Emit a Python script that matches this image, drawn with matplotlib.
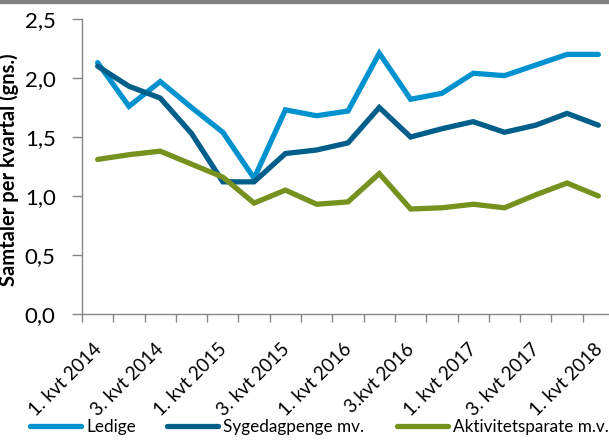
import numpy as np
import matplotlib.pyplot as plt
from matplotlib.lines import Line2D
from matplotlib.transforms import ScaledTranslation

plt.rcParams['font.family'] = ['Lato', 'DejaVu Sans']

# Data
kvartaler = ["1. kvt 2014", "2. kvt 2014", "3. kvt 2014", "4. kvt 2014",
             "1. kvt 2015", "2. kvt 2015", "3. kvt 2015", "4. kvt 2015",
             "1. kvt 2016", "2. kvt 2016", "3.kvt 2016", "4. kvt 2016",
             "1. kvt 2017", "2. kvt 2017", "3. kvt 2017", "4. kvt 2017",
             "1. kvt 2018"]
ledige = [2.13, 1.76, 1.97, 1.75, 1.54, 1.15, 1.73, 1.68, 1.72, 2.21,
          1.82, 1.87, 2.04, 2.02, 2.11, 2.20, 2.20]
sygedagpenge = [2.10, 1.93, 1.83, 1.53, 1.12, 1.12, 1.36, 1.39, 1.45, 1.75,
                1.50, 1.57, 1.63, 1.54, 1.60, 1.70, 1.60]
aktivitetsparate = [1.31, 1.35, 1.38, 1.27, 1.16, 0.94, 1.05, 0.93, 0.95, 1.19,
                    0.89, 0.90, 0.93, 0.90, 1.01, 1.11, 1.00]

farver = ["#0092CF", "#005E8A", "#76911E"]
navne = ["Ledige", "Sygedagpenge mv.", "Aktivitetsparate m.v."]

fig = plt.figure(figsize=(6.09, 4.42), dpi=100)
ax = fig.add_axes([82 / 609, 1 - 314 / 442, 532 / 609, 295 / 442])

x = np.arange(len(kvartaler))
for serie, farve in zip([ledige, sygedagpenge, aktivitetsparate], farver):
    ax.plot(x, serie, color=farve, linewidth=3.8, solid_capstyle="round",
            solid_joinstyle="miter")

ax.set_xlim(-0.5, len(kvartaler) - 0.5)
ax.set_ylim(0, 2.5)
yt = np.arange(0, 2.51, 0.5)
ax.set_yticks(yt)
ax.set_yticklabels([f"{v:.1f}".replace(".", ",") for v in yt], fontsize=16)

# ticks mellem kategorier, labels paa hver anden
ax.set_xticks(np.arange(-0.5, len(kvartaler), 1), minor=True)
ax.set_xticks(x[::2])
ax.set_xticklabels(kvartaler[::2], rotation=45, ha="right", va="top",
                   rotation_mode="anchor", fontsize=13.5)
ax.tick_params(axis="x", which="major", length=0, pad=19)
ax.tick_params(axis="x", which="minor", length=6, color="#868686", width=1)
ax.tick_params(axis="y", length=7, color="#868686", width=1, pad=12)
for lbl in ax.get_xticklabels():
    lbl.set_transform(lbl.get_transform() + ScaledTranslation(-5 / 100, 0, fig.dpi_scale_trans))

for s in ["top", "right"]:
    ax.spines[s].set_visible(False)
for s in ["left", "bottom"]:
    ax.spines[s].set_color("#868686")
    ax.spines[s].set_linewidth(1)

ax.set_ylabel("Samtaler per kvartal (gns.)", fontsize=14.5, fontweight="bold")
ax.yaxis.set_label_coords(-0.118, 0.49)

# legend, en post ad gangen
legend_x = [30, 167, 397]
for h_farve, navn, lx in zip(farver, navne, legend_x):
    h = Line2D([0], [0], color=h_farve, linewidth=3.8, solid_capstyle="round")
    fig.legend([h], [navn], loc="center left", bbox_to_anchor=(lx / 609, 1 - 427 / 442),
               frameon=False, fontsize=12.3, handlelength=3.0,
               handletextpad=0.3, borderpad=0, borderaxespad=0)

# graa bjaelke i toppen
fig.patches.append(plt.Rectangle((0, 1 - 3 / 442), 1, 3 / 442,
                                 transform=fig.transFigure, color="#808080"))

plt.savefig("out.png", dpi=100)
plt.close()
